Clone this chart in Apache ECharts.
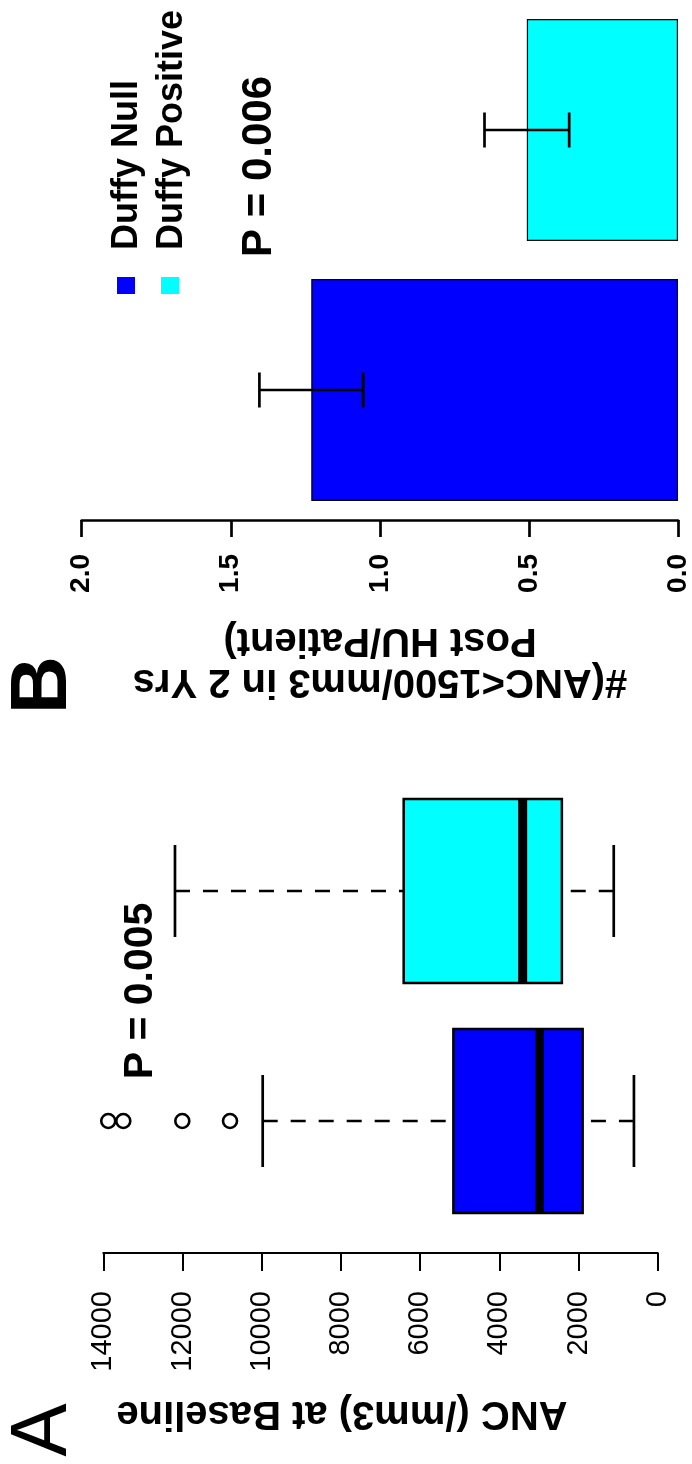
<!DOCTYPE html>
<html><head><meta charset="utf-8">
<script src="https://cdn.jsdelivr.net/npm/echarts@6/dist/echarts.min.js"></script>
<style>html,body{margin:0;padding:0;background:#fff}#c{width:692px;height:1464px}</style>
</head><body><div id="c"></div>
<script>
// ---- data ----
const groups = ['Duffy Null', 'Duffy Positive'];
// Panel A: ANC (/mm3) at baseline, box statistics
const ancMin = [600, 1110];
const ancQ1 = [1895, 2420];
const ancMedian = [2985, 3410];
const ancQ3 = [5160, 6415];
const ancMax = [9975, 12190];
const ancOutliersNull = [10800, 12005, 13495, 13875];
const ancAxisMin = 0, ancAxisMax = 14000, ancAxisStep = 2000;
const pTextA = 'P = 0.005';
const titleA = 'ANC (/mm3) at Baseline';
// Panel B: #(ANC<1500/mm3) in 2 yrs post HU / patient
const eventMean = [1.23, 0.507];
const eventSE = [0.174, 0.142];
const evAxisMin = 0, evAxisMax = 2, evAxisStep = 0.5;
const pTextB = 'P = 0.006';
const titleB = ['#(ANC<1500/mm3 in 2 Yrs', 'Post HU/Patient)'];

// ---- styles ----
const colors = ['#0000FF', '#00FFFF'];
const FF = '"Liberation Sans", Arial, Helvetica, sans-serif';

const chart = echarts.init(document.getElementById('c'), null, {renderer: 'canvas'});

function renderBox(params, api) {
  const i = api.value(0);
  const px = k => api.coord([api.value(k), i])[0];
  const cy = api.coord([api.value(3), i])[1];
  const band = api.size([0, 1])[1];
  const hw = band * 0.4, sw = hw * 0.5;
  const xMin = px(1), xQ1 = px(2), xMed = px(3), xQ3 = px(4), xMax = px(5);
  const dash = {stroke: '#000', lineWidth: 2.7, lineDash: [15, 13]};
  const solid = {stroke: '#000', lineWidth: 2.7};
  return {type: 'group', children: [
    {type: 'line', shape: {x1: xMax, y1: cy, x2: xQ3, y2: cy}, style: dash},
    {type: 'line', shape: {x1: xMin, y1: cy, x2: xQ1, y2: cy}, style: dash},
    {type: 'line', shape: {x1: xMax, y1: cy - sw, x2: xMax, y2: cy + sw}, style: solid},
    {type: 'line', shape: {x1: xMin, y1: cy - sw, x2: xMin, y2: cy + sw}, style: solid},
    {type: 'rect', shape: {x: Math.min(xQ1, xQ3), y: cy - hw, width: Math.abs(xQ1 - xQ3), height: 2 * hw},
     style: {fill: colors[i], stroke: '#000', lineWidth: 2.5}},
    {type: 'line', shape: {x1: xMed, y1: cy - hw, x2: xMed, y2: cy + hw}, style: {stroke: '#000', lineWidth: 9}}
  ]};
}

function renderErr(params, api) {
  const i = api.value(0);
  const lo = api.coord([api.value(1), i]);
  const hi = api.coord([api.value(2), i]);
  const cy = lo[1], cap = 17.5;
  const st = {stroke: '#000', lineWidth: 2.7};
  return {type: 'group', children: [
    {type: 'line', shape: {x1: lo[0], y1: cy, x2: hi[0], y2: cy}, style: st},
    {type: 'line', shape: {x1: lo[0], y1: cy - cap, x2: lo[0], y2: cy + cap}, style: st},
    {type: 'line', shape: {x1: hi[0], y1: cy - cap, x2: hi[0], y2: cy + cap}, style: st}
  ]};
}

function txt(text, x, y, rot, size, weight, align) {
  return {type: 'text', x: x, y: y, rotation: rot, z: 10,
    style: {text: text, fontSize: size, fontWeight: weight, fontFamily: FF, fill: '#000',
      align: align || 'center', verticalAlign: 'middle'}};
}

const option = {
  animation: false,
  backgroundColor: '#fff',
  grid: [
    {left: 103.3, right: 34.3, top: 776, height: 460, containLabel: false},
    {left: 81.7, right: 13.7, top: -13, height: 533, containLabel: false}
  ],
  xAxis: [
    {gridIndex: 0, type: 'value', min: ancAxisMin, max: ancAxisMax, interval: ancAxisStep, inverse: true,
     position: 'bottom', offset: 17,
     axisLine: {show: true, lineStyle: {color: '#000', width: 2}},
     axisTick: {show: true, inside: false, length: 18, lineStyle: {color: '#000', width: 2}},
     axisLabel: {show: true, rotate: 90, margin: 38, fontSize: 29, color: '#000', fontFamily: FF,
       formatter: v => String(v), showMinLabel: true, showMaxLabel: true},
     splitLine: {show: false}},
    {gridIndex: 1, type: 'value', min: evAxisMin, max: evAxisMax, interval: evAxisStep, inverse: true,
     position: 'bottom',
     axisLine: {show: true, lineStyle: {color: '#000', width: 2.7}},
     axisTick: {show: true, inside: false, length: 17, lineStyle: {color: '#000', width: 2.7}},
     axisLabel: {show: true, rotate: 90, margin: 34, fontSize: 28, fontWeight: 'bold', color: '#000', fontFamily: FF,
       formatter: v => v.toFixed(1), showMinLabel: true, showMaxLabel: true},
     splitLine: {show: false}}
  ],
  yAxis: [
    {gridIndex: 0, type: 'category', data: groups, show: false},
    {gridIndex: 1, type: 'category', data: groups, show: false}
  ],
  series: [
    {type: 'custom', name: 'ANC box', xAxisIndex: 0, yAxisIndex: 0,
     data: groups.map((g, i) => [i, ancMin[i], ancQ1[i], ancMedian[i], ancQ3[i], ancMax[i]]),
     encode: {y: 0, x: [1, 2, 3, 4, 5]}, renderItem: renderBox, z: 2},
    {type: 'scatter', name: 'Outliers', xAxisIndex: 0, yAxisIndex: 0,
     data: ancOutliersNull.map(v => [v, 0]), symbol: 'circle', symbolSize: 14,
     itemStyle: {color: 'rgba(0,0,0,0)', borderColor: '#000', borderWidth: 2.6, opacity: 1}, z: 3},
    {type: 'bar', name: 'Events', xAxisIndex: 1, yAxisIndex: 1, barWidth: 222,
     data: eventMean.map((v, i) => ({value: v, itemStyle: {color: colors[i]}})),
     itemStyle: {borderColor: '#000', borderWidth: 1.2}, z: 2},
    {type: 'custom', name: 'SE', xAxisIndex: 1, yAxisIndex: 1,
     data: eventMean.map((v, i) => [i, v - eventSE[i], v + eventSE[i]]),
     encode: {y: 0, x: [1, 2]}, renderItem: renderErr, z: 4}
  ],
  graphic: [
    txt('A', 44, 1430, Math.PI / 2, 80, 'normal'),
    txt(titleA, 342, 1413, Math.PI, 40, 'bold'),
    txt(pTextA, 141, 991, Math.PI / 2, 41, 'bold'),
    txt('B', 44, 685, Math.PI / 2, 80, 'bold'),
    txt(titleB[0], 380, 681, Math.PI, 40, 'bold'),
    txt(titleB[1], 380, 640, Math.PI, 40, 'bold'),
    txt(pTextB, 259.5, 166.5, Math.PI / 2, 42, 'bold'),
    {type: 'rect', shape: {x: 117, y: 277, width: 18, height: 17}, style: {fill: colors[0]}},
    {type: 'rect', shape: {x: 161, y: 277, width: 18, height: 17}, style: {fill: colors[1]}},
    txt(groups[0], 127, 250, Math.PI / 2, 36, 'bold', 'left'),
    txt(groups[1], 172, 250, Math.PI / 2, 36, 'bold', 'left')
  ]
};
chart.setOption(option);
</script></body></html>
